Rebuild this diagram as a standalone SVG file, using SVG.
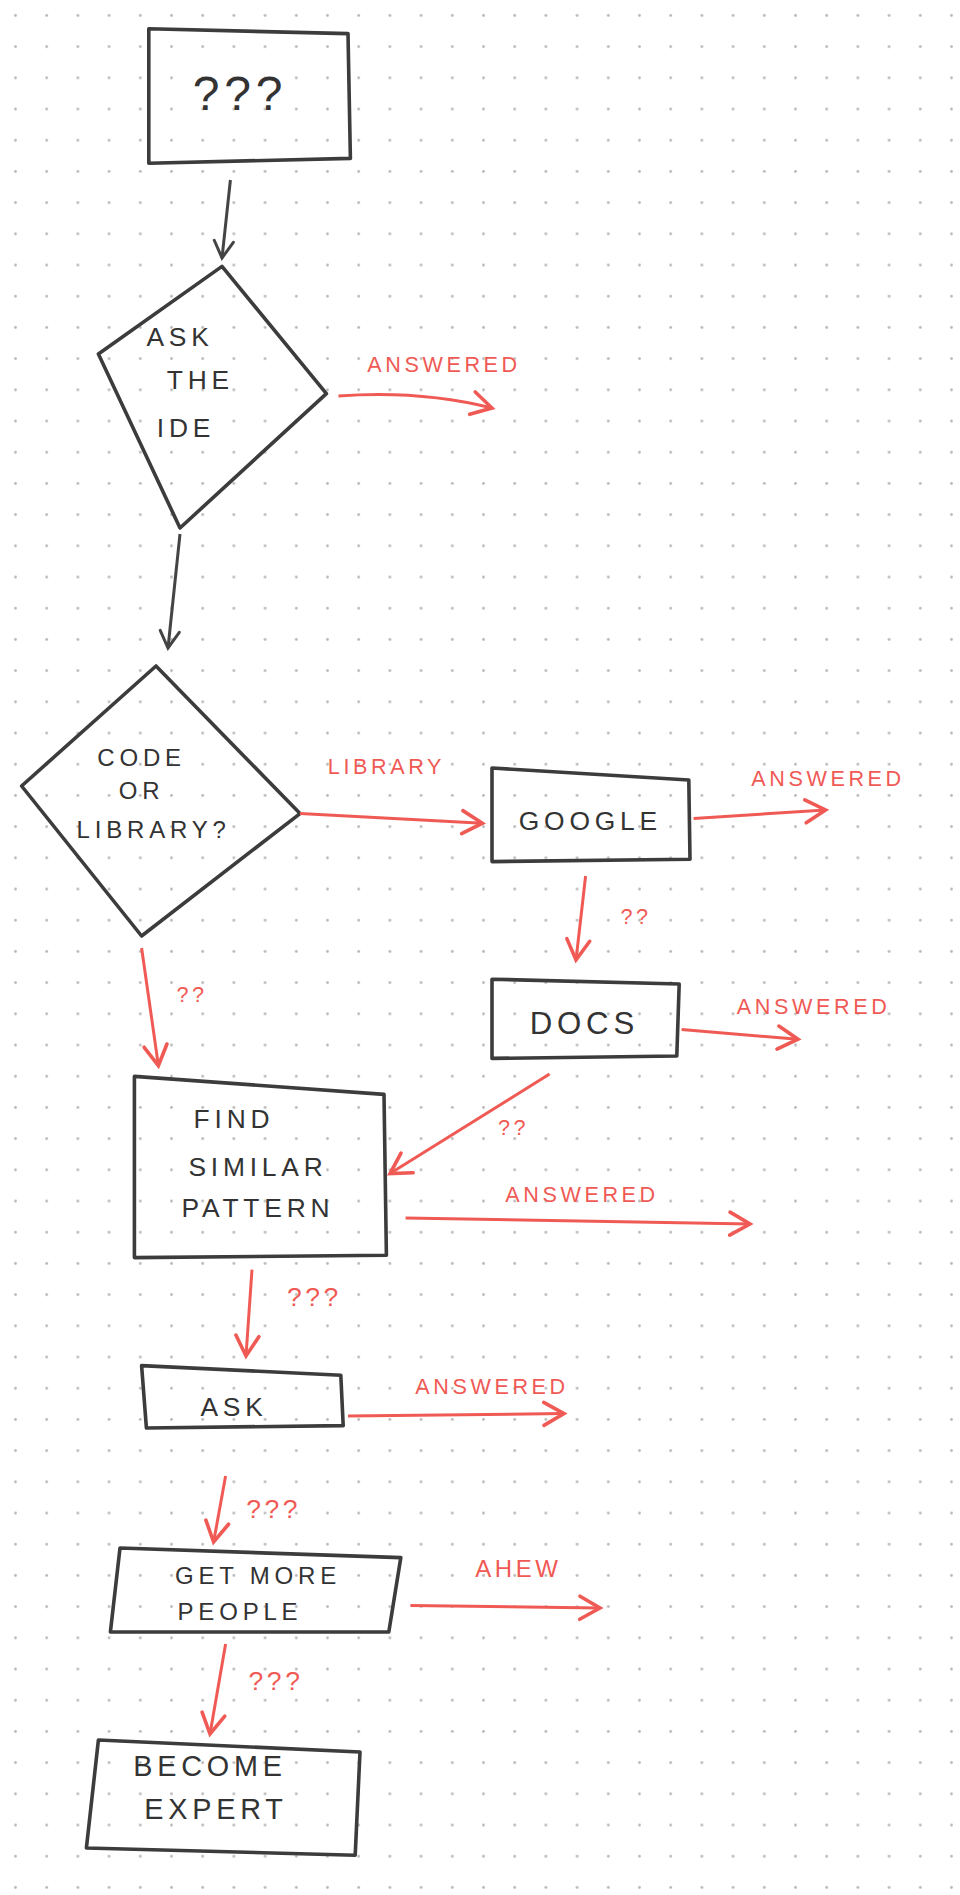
<svg xmlns="http://www.w3.org/2000/svg" width="960" height="1895" viewBox="0 0 960 1895">
<defs>
<pattern id="dots" width="31.2" height="31.2" patternUnits="userSpaceOnUse" x="14" y="14"><circle cx="1.5" cy="1.5" r="1.4" fill="#b8b8b8"/></pattern>
<marker id="ab" viewBox="0 0 20 20" refX="17" refY="10" markerWidth="20" markerHeight="20" markerUnits="userSpaceOnUse" orient="auto"><path d="M3 2 L17 10 L3 18" fill="none" stroke="#444" stroke-width="2.5" stroke-linecap="round"/></marker>
<marker id="ar" viewBox="0 0 20 20" refX="17" refY="10" markerWidth="24" markerHeight="24" markerUnits="userSpaceOnUse" orient="auto"><path d="M3 2 L17 10 L3 18" fill="none" stroke="#f05a55" stroke-width="2.5" stroke-linecap="round"/></marker>
</defs>
<style>
.n{fill:none;stroke:#3c3c3c;stroke-width:3;stroke-linejoin:round}
.t{font-family:"Liberation Sans",sans-serif;font-size:22px;fill:#333;text-anchor:middle;letter-spacing:4px}
.r{font-family:"Liberation Sans",sans-serif;font-size:18px;fill:#f05a55;text-anchor:middle;letter-spacing:3px}
.cb{fill:none;stroke:#444;stroke-width:2.5;marker-end:url(#ab)}
.cr{fill:none;stroke:#f05a55;stroke-width:2.5;marker-end:url(#ar)}
</style>
<rect width="960" height="1895" fill="#fff"/>
<rect width="960" height="1895" fill="url(#dots)"/>
<g transform="scale(1.2)">
<g id="start"><path class="n" d="M124 24 L290 28 L292 132 L124 136 Z"/><text class="t" x="200" y="92" style="font-size:40px">???</text></g>
<g id="askide"><path class="n" d="M185 222 L82 295 L150 440 L272 328 Z"/><text class="t" x="150" y="288">ASK</text><text class="t" x="167" y="324">THE</text><text class="t" x="155" y="364">IDE</text></g>
<g id="codelib"><path class="n" d="M130 555 L18 655 L118 780 L250 678 Z"/><text class="t" x="118" y="638" style="font-size:20px">CODE</text><text class="t" x="118" y="666" style="font-size:20px">OR</text><text class="t" x="128" y="698" style="font-size:20px">LIBRARY?</text></g>
<g id="google"><path class="n" d="M410 640 L574 650 L575 716 L410 718 Z"/><text class="t" x="492" y="692">GOOGLE</text></g>
<g id="docs"><path class="n" d="M410 816 L566 820 L564 880 L410 882 Z"/><text class="t" x="487" y="862" style="font-size:26px">DOCS</text></g>
<g id="find"><path class="n" d="M112 897 L320 912 L322 1046 L112 1048 Z"/><text class="t" x="195" y="940">FIND</text><text class="t" x="215" y="980">SIMILAR</text><text class="t" x="215" y="1014">PATTERN</text></g>
<g id="ask"><path class="n" d="M118 1138 L284 1146 L286 1188 L122 1190 Z"/><text class="t" x="195" y="1180">ASK</text></g>
<g id="getmore"><path class="n" d="M100 1290 L334 1298 L324 1360 L92 1360 Z"/><text class="t" x="215" y="1320" style="font-size:20px">GET MORE</text><text class="t" x="200" y="1350" style="font-size:20px">PEOPLE</text></g>
<g id="expert"><path class="n" d="M82 1450 L300 1460 L296 1546 L72 1540 Z"/><text class="t" x="175" y="1480" style="font-size:24px">BECOME</text><text class="t" x="180" y="1516" style="font-size:24px">EXPERT</text></g>
<g id="connectors">
<path class="cb" d="M192 150 L185 215"/>
<path class="cb" d="M150 445 L140 540"/>
<path class="cr" d="M282 330 Q350 325 410 340"/>
<path class="cr" d="M250 678 L402 686"/>
<path class="cr" d="M578 682 L688 675"/>
<path class="cr" d="M488 730 L480 800"/>
<path class="cr" d="M568 858 L665 866"/>
<path class="cr" d="M458 895 L325 978"/>
<path class="cr" d="M118 790 L132 888"/>
<path class="cr" d="M338 1015 L625 1020"/>
<path class="cr" d="M210 1058 L205 1130"/>
<path class="cr" d="M290 1180 L470 1178"/>
<path class="cr" d="M188 1230 L178 1285"/>
<path class="cr" d="M342 1338 L500 1340"/>
<path class="cr" d="M188 1370 L175 1445"/>
</g>
<g id="labels">
<text class="r" x="370" y="310">ANSWERED</text>
<text class="r" x="322" y="645">LIBRARY</text>
<text class="r" x="690" y="655">ANSWERED</text>
<text class="r" x="530" y="770">??</text>
<text class="r" x="678" y="845">ANSWERED</text>
<text class="r" x="428" y="946">??</text>
<text class="r" x="160" y="835">??</text>
<text class="r" x="485" y="1002">ANSWERED</text>
<text class="r" x="262" y="1088" style="font-size:22px">???</text>
<text class="r" x="410" y="1162">ANSWERED</text>
<text class="r" x="228" y="1265" style="font-size:22px">???</text>
<text class="r" x="432" y="1314" style="font-size:20px">AHEW</text>
<text class="r" x="230" y="1408" style="font-size:22px">???</text>
</g>
</g>
</svg>
